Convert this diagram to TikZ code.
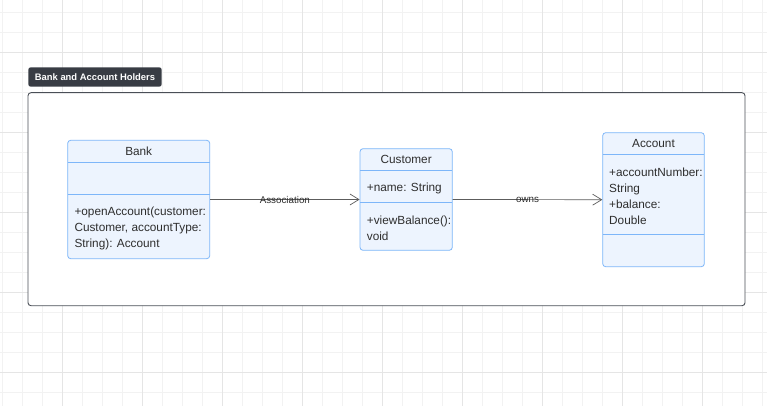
\documentclass[tikz,border=0pt]{standalone}
\usepackage{fontspec}
\setmainfont{Liberation Sans}
\usetikzlibrary{arrows.meta}
\definecolor{gridminor}{HTML}{F2F2F2}
\definecolor{gridmajor}{HTML}{E5E5E5}
\definecolor{clsfill}{HTML}{EDF4FE}
\definecolor{clsline}{HTML}{7DB6F9}
\definecolor{frameline}{HTML}{4A4F57}
\definecolor{badgefill}{HTML}{383C44}
\definecolor{edgeline}{HTML}{5C5C5C}
\definecolor{txt}{HTML}{2E2E2E}
\tikzstyle{container} = [rectangle,rounded corners=3pt,draw=frameline,
fill=white,line width=0.9pt]
\tikzstyle{badge} = [rectangle,rounded corners=2.5pt,fill=badgefill,
text=white,font=\fontsize{9.4}{11}\selectfont\bfseries,inner sep=0pt]
\tikzstyle{umlclass} = [rectangle,rounded corners=3pt,draw=clsline,
fill=clsfill,line width=0.8pt]
\tikzstyle{divider} = [draw=clsline,line width=0.8pt]
\tikzstyle{classname} = [text=txt,font=\fontsize{11.8}{16}\selectfont,inner sep=0pt]
\tikzstyle{member} = [text=txt,font=\fontsize{11.8}{16}\selectfont,
align=left,anchor=west,inner sep=0pt]
\tikzstyle{edgelabel} = [text=txt,font=\fontsize{9.8}{11}\selectfont,inner sep=0pt]
\tikzstyle{arrow} = [draw=edgeline,line width=0.7pt,
-{Straight Barb[length=9pt,width=11pt]}]

\begin{document}
\begin{tikzpicture}[x=1pt,y=-1pt]
\useasboundingbox (0,0) rectangle (767,406);
% background grid
\foreach \x in {2.7,22.7,...,767} \draw[gridminor,line width=0.8pt] (\x,0) -- (\x,406);
\foreach \y in {12.7,32.7,...,406} \draw[gridminor,line width=0.8pt] (0,\y) -- (767,\y);
\foreach \x in {62.7,142.7,...,767} \draw[gridmajor,line width=0.9pt] (\x,0) -- (\x,406);
\foreach \y in {52.7,132.7,...,406} \draw[gridmajor,line width=0.9pt] (0,\y) -- (767,\y);
% frame and its title
\node (frame) [container,minimum width=717,minimum height=213] at (386.5,199.2) {};
\node (badge) [badge,minimum width=133.4,minimum height=19.4] at (95,77) {Bank and Account Holders};
% class boxes
\node (bank) [umlclass,minimum width=142,minimum height=118.4] at (138.7,199.5) {};
\node (cust) [umlclass,minimum width=92.3,minimum height=101.6] at (406.15,199.5) {};
\node (acct) [umlclass,minimum width=101.6,minimum height=134] at (653.5,199.7) {};
% compartments
\draw[divider] (67.7,162) -- (209.7,162);
\draw[divider] (67.7,194.7) -- (209.7,194.7);
\draw[divider] (360,170.7) -- (452.3,170.7);
\draw[divider] (360,202.3) -- (452.3,202.3);
\draw[divider] (602.7,154) -- (704.3,154);
\draw[divider] (602.7,234.3) -- (704.3,234.3);
% class texts
\node (bankname) [classname] at (138.7,151.5) {Bank};
\node (bankops) [member] at (74.3,228.5) {+openAccount(customer:\\Customer, accountType:\\String): Account};
\node (custname) [classname] at (406.15,159.8) {Customer};
\node (custattr) [member] at (366.7,188) {+name: String};
\node (custops) [member] at (366.7,228.3) {+viewBalance():\\void};
\node (acctname) [classname] at (653.5,143.8) {Account};
\node (acctattr) [member] at (609,196.5) {+accountNumber:\\String\\+balance:\\Double};
% relations
\draw[arrow] (bank.east) -- node[edgelabel] {Association} (cust.west);
\draw[arrow] (cust.east) -- node[edgelabel] {owns} (acct.west);
\end{tikzpicture}
\end{document}
